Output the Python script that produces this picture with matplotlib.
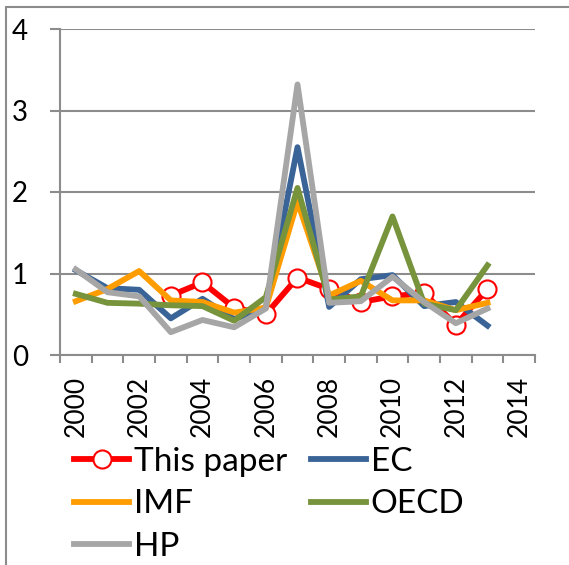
import numpy as np
import matplotlib

matplotlib.use("Agg")
import matplotlib.pyplot as plt
from matplotlib.ticker import MultipleLocator

nan = np.nan
years = list(range(2000, 2014))
this_paper = [nan, nan, nan, 0.73, 0.89, 0.58, 0.50, 0.95, 0.81, 0.65, 0.72, 0.76, 0.37, 0.81]
ec = [1.04, 0.82, 0.80, 0.45, 0.69, 0.44, 0.58, 2.55, 0.59, 0.93, 0.98, 0.60, 0.65, 0.36]
imf = [0.66, 0.81, 1.03, 0.67, 0.65, 0.52, 0.58, 1.88, 0.73, 0.91, 0.67, 0.67, 0.55, 0.64]
oecd = [0.75, 0.64, 0.63, 0.61, 0.60, 0.42, 0.71, 2.05, 0.68, 0.72, 1.70, 0.63, 0.55, 1.10]
hp = [1.05, 0.77, 0.72, 0.28, 0.43, 0.34, 0.57, 3.32, 0.64, 0.66, 0.96, 0.65, 0.39, 0.57]
tick_years = list(range(2000, 2015, 2))

plt.rcParams["font.family"] = ["Lato", "DejaVu Sans"]
W, H = 569, 565
fig = plt.figure(figsize=(W / 100, H / 100), dpi=100)
ax = fig.add_axes([60 / W, 1 - 355 / H, 475 / W, 326 / H])

lw = 4.2
ax.plot(years, this_paper, color="#FF0000", lw=lw, marker="o", ms=13,
        mfc="white", mec="#FF0000", mew=1.5, label="This paper", zorder=3)
ax.plot(years, ec, color="#3A6497", lw=lw, label="EC", zorder=4)
ax.plot(years, imf, color="#FF9C00", lw=lw, label="IMF", zorder=5)
ax.plot(years, oecd, color="#77933C", lw=lw, label="OECD", zorder=6)
ax.plot(years, hp, color="#A6A6A6", lw=lw, label="HP", zorder=7)

grey = "#8C8C8C"
ax.set_xlim(1999.5, 2014.5)
ax.set_ylim(0, 4)
ax.set_yticks([0, 1, 2, 3, 4])
ax.set_xticks(tick_years)
ax.set_xticklabels([str(y) for y in tick_years], rotation=90, fontsize=19,
                   va="top", ha="center")
ax.xaxis.set_minor_locator(MultipleLocator(1, offset=0.5))
ax.tick_params(axis="x", which="major", length=0, pad=15)
ax.tick_params(axis="x", which="minor", length=6, width=1.5, color=grey)
ax.tick_params(axis="y", length=7, width=1.5, color=grey, pad=16, labelsize=20)
ax.grid(True, axis="y", color=grey, lw=1.5, zorder=0)
ax.set_axisbelow(True)
for s in ("top", "right"):
    ax.spines[s].set_visible(False)
for s in ("left", "bottom"):
    ax.spines[s].set_color(grey)
    ax.spines[s].set_linewidth(1.5)

h, l = ax.get_legend_handles_labels()
order = [0, 2, 4, 1, 3]
fig.legend([h[i] for i in order], [l[i] for i in order], ncol=2,
           loc="upper left", bbox_to_anchor=(74 / W, 1 - 447 / H),
           frameon=False, fontsize=24, handlelength=1.65, handletextpad=0.15,
           columnspacing=0.7, labelspacing=0.37, borderpad=0, borderaxespad=0)

fig.patches.append(plt.Rectangle((6 / W, -0.05), 1.2, 1.05 - 7 / H,
                                 transform=fig.transFigure, fill=False,
                                 edgecolor=grey, lw=1.5))

fig.savefig("out.png", dpi=100)
